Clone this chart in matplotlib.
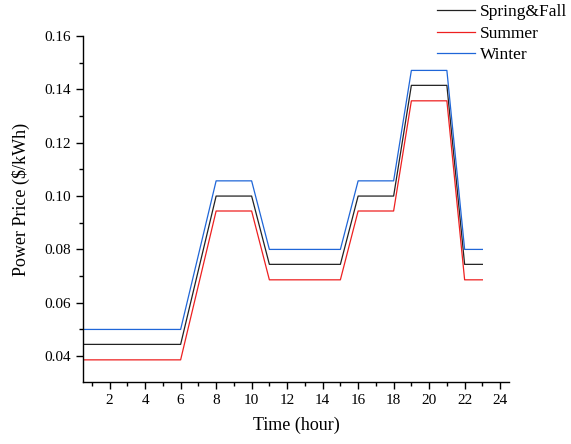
import matplotlib
matplotlib.use("Agg")
import matplotlib.pyplot as plt
from matplotlib.ticker import MultipleLocator

plt.rcParams['font.family'] = ['Liberation Serif', 'DejaVu Serif']

hours = [0, 6, 8, 10, 11, 15, 16, 18, 19, 21, 22, 23]
spring_fall = [0.0444, 0.0444, 0.1000, 0.1000, 0.0744, 0.0744, 0.1000, 0.1000, 0.1415, 0.1415, 0.0744, 0.0744]
summer = [0.0386, 0.0386, 0.0944, 0.0944, 0.0686, 0.0686, 0.0944, 0.0944, 0.1357, 0.1357, 0.0686, 0.0686]
winter = [0.0500, 0.0500, 0.1057, 0.1057, 0.0800, 0.0800, 0.1057, 0.1057, 0.1471, 0.1471, 0.0800, 0.0800]
x_ticks = [2, 4, 6, 8, 10, 12, 14, 16, 18, 20, 22, 24]
y_ticks = [0.04, 0.06, 0.08, 0.10, 0.12, 0.14, 0.16]

fig = plt.figure(figsize=(5.71, 4.44), dpi=100)
ax = fig.add_axes([83/571, 1-382/444, (509-83)/571, (382-36)/444])

ax.plot(hours, spring_fall, color='#222222', lw=0.9, label='Spring&Fall')
ax.plot(hours, summer, color='#ee2020', lw=0.9, label='Summer')
ax.plot(hours, winter, color='#1f66d8', lw=0.9, label='Winter')

ax.set_xlim(0.5, 24.5)
ax.set_ylim(0.0303, 0.16)
ax.set_xticks(x_ticks)
ax.set_yticks(y_ticks)
ax.set_yticklabels([f"{v:.2f}" for v in y_ticks])
ax.xaxis.set_minor_locator(MultipleLocator(1))
ax.yaxis.set_minor_locator(MultipleLocator(0.01))
ax.tick_params(which='major', direction='out', length=5, width=1, labelsize=11)
ax.tick_params(which='minor', direction='out', length=3, width=1)
ax.spines['top'].set_visible(False)
ax.spines['right'].set_visible(False)
for s in ('left', 'bottom'):
    ax.spines[s].set_linewidth(1)

ax.set_xlabel('Time (hour)', fontsize=13, labelpad=7)
ax.set_ylabel('Power Price ($/kWh)', fontsize=13)
ax.yaxis.set_label_coords(-0.125, 0.529)

fig.legend(loc='upper left', bbox_to_anchor=(430/571, 1.006), frameon=False,
           fontsize=12.5, handlelength=2.2, handletextpad=0.3, labelspacing=0.3,
           borderaxespad=0)

fig.savefig('out.png', dpi=100)
